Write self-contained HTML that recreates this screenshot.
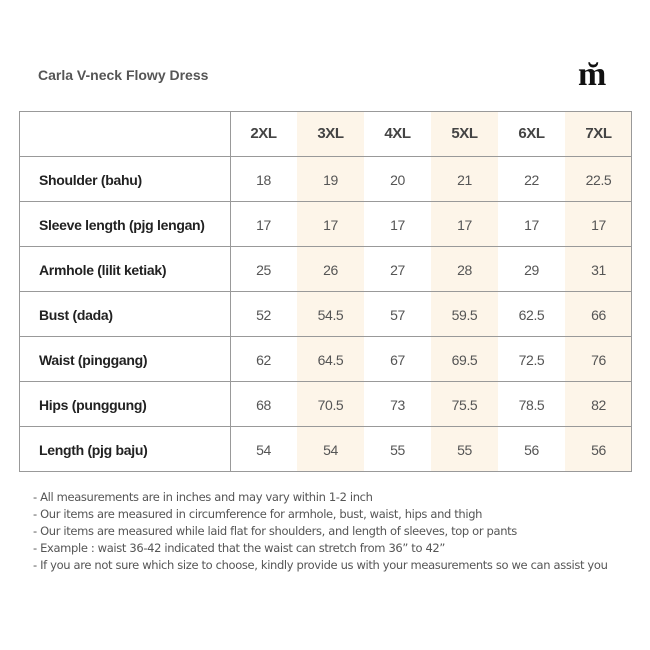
<!DOCTYPE html>
<html><head><style>
body{margin:0;width:650px;height:650px;background:#fff;position:relative;font-family:"Liberation Sans",sans-serif;overflow:hidden}
.title{position:absolute;left:38px;top:67px;font-size:14px;font-weight:bold;color:#555}
.logo{position:absolute;left:578px;top:56px;font-family:"Liberation Serif",serif;font-size:34px;font-weight:bold;color:#111;letter-spacing:-2px}
.hl{position:absolute;top:112px;height:359px;width:67px;background:#fdf5e9}
.tbl{position:absolute;left:19px;top:111px;width:611px;height:359px;border:1px solid #999}
.vl{position:absolute;left:230px;top:111px;width:1px;height:360px;background:#999}
.hr{position:absolute;left:19px;width:613px;height:1px;background:#999}
.lab{position:absolute;left:39px;font-size:14px;font-weight:bold;color:#222;letter-spacing:-0.3px}
.c{position:absolute;width:67px;text-align:center;font-size:14px;color:#555;letter-spacing:-0.4px}
.h{font-weight:bold;font-size:15px;color:#444}
.notes{position:absolute;left:33px;top:489px;font-size:11.5px;line-height:17px;color:#555;font-family:"DejaVu Sans",sans-serif;letter-spacing:-0.35px}
</style></head><body>
<div class="title">Carla V-neck Flowy Dress</div>
<div class="logo">m̆</div>
<div class="hl" style="left:297px"></div>
<div class="hl" style="left:431px"></div>
<div class="hl" style="left:565px"></div>
<div class="tbl"></div>
<div class="vl"></div>
<div class="hr" style="top:156px"></div>
<div class="hr" style="top:201px"></div>
<div class="hr" style="top:246px"></div>
<div class="hr" style="top:291px"></div>
<div class="hr" style="top:336px"></div>
<div class="hr" style="top:381px"></div>
<div class="hr" style="top:426px"></div>
<div class="notes">- All measurements are in inches and may vary within 1-2 inch<br>- Our items are measured in circumference for armhole, bust, waist, hips and thigh<br>- Our items are measured while laid flat for shoulders, and length of sleeves, top or pants<br>- Example : waist 36-42 indicated that the waist can stretch from 36” to 42”<br>- If you are not sure which size to choose, kindly provide us with your measurements so we can assist you</div>

<div class="c h" style="left:230px;top:125px">2XL</div><div class="c h" style="left:297px;top:125px">3XL</div><div class="c h" style="left:364px;top:125px">4XL</div><div class="c h" style="left:431px;top:125px">5XL</div><div class="c h" style="left:498px;top:125px">6XL</div><div class="c h" style="left:565px;top:125px">7XL</div>

<div class="lab" style="top:172px">Shoulder (bahu)</div>
<div class="c" style="left:230px;top:172px">18</div><div class="c" style="left:297px;top:172px">19</div><div class="c" style="left:364px;top:172px">20</div><div class="c" style="left:431px;top:172px">21</div><div class="c" style="left:498px;top:172px">22</div><div class="c" style="left:565px;top:172px">22.5</div>

<div class="lab" style="top:217px">Sleeve length (pjg lengan)</div>
<div class="c" style="left:230px;top:217px">17</div><div class="c" style="left:297px;top:217px">17</div><div class="c" style="left:364px;top:217px">17</div><div class="c" style="left:431px;top:217px">17</div><div class="c" style="left:498px;top:217px">17</div><div class="c" style="left:565px;top:217px">17</div>

<div class="lab" style="top:262px">Armhole (lilit ketiak)</div>
<div class="c" style="left:230px;top:262px">25</div><div class="c" style="left:297px;top:262px">26</div><div class="c" style="left:364px;top:262px">27</div><div class="c" style="left:431px;top:262px">28</div><div class="c" style="left:498px;top:262px">29</div><div class="c" style="left:565px;top:262px">31</div>

<div class="lab" style="top:307px">Bust (dada)</div>
<div class="c" style="left:230px;top:307px">52</div><div class="c" style="left:297px;top:307px">54.5</div><div class="c" style="left:364px;top:307px">57</div><div class="c" style="left:431px;top:307px">59.5</div><div class="c" style="left:498px;top:307px">62.5</div><div class="c" style="left:565px;top:307px">66</div>

<div class="lab" style="top:352px">Waist (pinggang)</div>
<div class="c" style="left:230px;top:352px">62</div><div class="c" style="left:297px;top:352px">64.5</div><div class="c" style="left:364px;top:352px">67</div><div class="c" style="left:431px;top:352px">69.5</div><div class="c" style="left:498px;top:352px">72.5</div><div class="c" style="left:565px;top:352px">76</div>

<div class="lab" style="top:397px">Hips (punggung)</div>
<div class="c" style="left:230px;top:397px">68</div><div class="c" style="left:297px;top:397px">70.5</div><div class="c" style="left:364px;top:397px">73</div><div class="c" style="left:431px;top:397px">75.5</div><div class="c" style="left:498px;top:397px">78.5</div><div class="c" style="left:565px;top:397px">82</div>

<div class="lab" style="top:442px">Length (pjg baju)</div>
<div class="c" style="left:230px;top:442px">54</div><div class="c" style="left:297px;top:442px">54</div><div class="c" style="left:364px;top:442px">55</div><div class="c" style="left:431px;top:442px">55</div><div class="c" style="left:498px;top:442px">56</div><div class="c" style="left:565px;top:442px">56</div>
</body></html>
